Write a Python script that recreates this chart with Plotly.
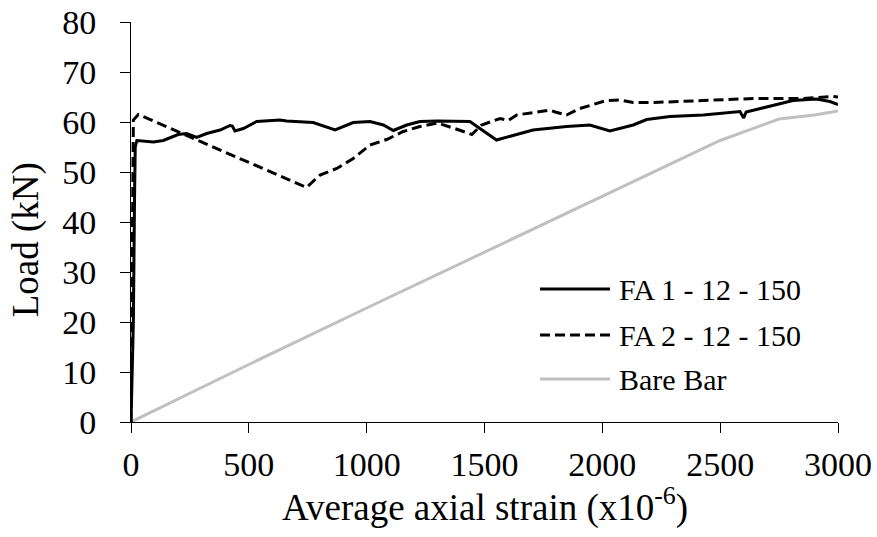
import plotly.graph_objects as go

# Average axial strain (x10^-6) and load (kN) for each specimen
fa1_strain = [0, 10, 15, 18, 25, 60, 95, 137, 200, 236, 279, 321, 378, 420, 430, 441,
              477, 533, 632, 660, 717, 773, 866, 943, 1014, 1071, 1113, 1170, 1226,
              1300, 1438, 1551, 1706, 1848, 1947, 2032, 2131, 2188, 2287, 2428, 2584,
              2600, 2610, 2711, 2809, 2909, 2966, 3000]
fa1_load = [0, 20, 45, 55, 56.3, 56.2, 56.0, 56.3, 57.5, 57.7, 56.9, 57.7, 58.4, 59.3,
            59.2, 58.2, 58.7, 60.1, 60.4, 60.2, 60.0, 59.9, 58.4, 59.9, 60.1, 59.4,
            58.3, 59.4, 60.1, 60.2, 60.1, 56.4, 58.4, 59.1, 59.4, 58.2, 59.4, 60.5,
            61.1, 61.4, 62.1, 60.8, 62.0, 63.1, 64.3, 64.6, 64.1, 63.5]

fa2_strain = [0, 5, 8, 10, 31, 745, 802, 873, 943, 1014, 1085, 1155, 1226, 1300, 1380,
              1446, 1488, 1566, 1600, 1637, 1778, 1800, 1848, 1905, 2018, 2075, 2131,
              2216, 2428, 2640, 2852, 2980, 3000]
fa2_load = [0, 30, 58, 60.4, 61.5, 46.9, 49.4, 50.7, 52.7, 55.4, 56.5, 58.1, 59.1, 59.8,
            58.6, 57.5, 59.4, 60.7, 60.3, 61.4, 62.4, 62.0, 61.4, 62.7, 64.3, 64.4,
            63.9, 63.9, 64.3, 64.7, 64.7, 65.1, 65.0]

bare_strain = [0, 500, 1000, 1500, 2000, 2500, 2750, 2800, 2900, 3000]
bare_load = [0, 11.5, 22.8, 34.0, 45.2, 56.3, 60.6, 60.9, 61.4, 62.2]

series_names = ["FA 1 - 12 - 150", "FA 2 - 12 - 150", "Bare Bar"]
x_ticks = [0, 500, 1000, 1500, 2000, 2500, 3000]
y_ticks = [0, 10, 20, 30, 40, 50, 60, 70, 80]

FONT = "'Times New Roman', 'Liberation Serif', 'DejaVu Serif', serif"
styles = [
    dict(color="black", width=3, dash="solid"),
    dict(color="black", width=3, dash="10px,5px"),
    dict(color="#c0c0c0", width=3, dash="solid"),
]

fig = go.Figure()
fig.add_trace(go.Scatter(x=bare_strain, y=bare_load, mode="lines",
                         line=styles[2], name=series_names[2], showlegend=False))
fig.add_trace(go.Scatter(x=fa2_strain, y=fa2_load, mode="lines",
                         line=styles[1], name=series_names[1], showlegend=False))
fig.add_trace(go.Scatter(x=fa1_strain, y=fa1_load, mode="lines",
                         line=styles[0], name=series_names[0], showlegend=False))

# Legend drawn as line samples with labels (paper coordinates)
row_y = [0.3325, 0.2175, 0.1075]
for name, st, yy in zip(series_names, styles, row_y):
    fig.add_shape(type="line", xref="paper", yref="paper",
                  x0=0.5785, x1=0.6775, y0=yy, y1=yy,
                  line=dict(color=st["color"], width=st["width"], dash=st["dash"]))
    fig.add_annotation(xref="paper", yref="paper", x=0.6874, y=yy,
                       xanchor="left", yanchor="middle", showarrow=False,
                       text=name, font=dict(family=FONT, size=30, color="black"))

# Axis titles
fig.add_annotation(xref="paper", yref="paper", x=0.5, y=-0.2075,
                   xanchor="center", yanchor="middle", showarrow=False,
                   text="Average axial strain (x10<sup>-6</sup>)",
                   font=dict(family=FONT, size=37, color="black"))
fig.add_annotation(xref="paper", yref="paper", x=-0.148, y=0.455,
                   xanchor="center", yanchor="middle", showarrow=False,
                   textangle=-90, text="Load (kN)",
                   font=dict(family=FONT, size=37, color="black"))

axis_common = dict(showline=True, linecolor="black", linewidth=1, showgrid=False,
                   zeroline=False, ticks="outside", ticklen=10, tickcolor="black",
                   tickwidth=1, automargin=False,
                   tickfont=dict(family=FONT, size=34, color="black"))

fig.update_xaxes(range=[0, 3000], tickvals=x_ticks, ticktext=[str(v) for v in x_ticks],
                 ticklabelstandoff=2, **axis_common)
fig.update_yaxes(range=[0, 80], tickvals=y_ticks, ticktext=[str(v) for v in y_ticks],
                 ticklabelstandoff=17, **axis_common)

fig.update_layout(width=877, height=537, margin=dict(l=131, r=39, t=22, b=115),
                  plot_bgcolor="white", paper_bgcolor="white", showlegend=False,
                  font=dict(family=FONT, color="black"))

fig.write_html("out.html")
